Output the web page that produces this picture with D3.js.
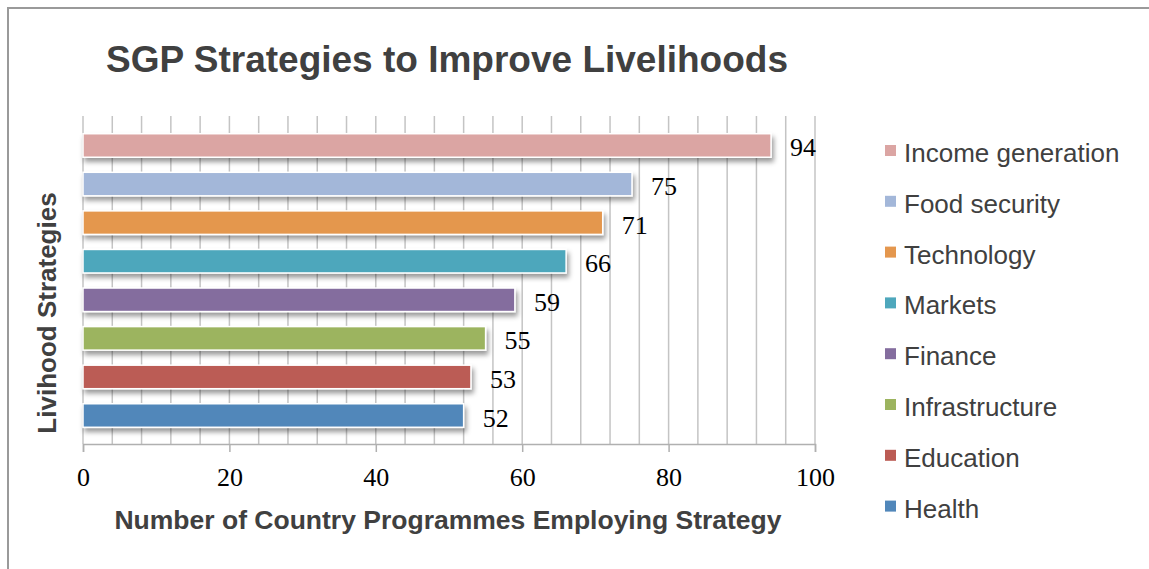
<!DOCTYPE html>
<html>
<head>
<meta charset="utf-8">
<script src="https://cdn.jsdelivr.net/npm/d3@7"></script>
<style>
  body { margin: 0; background: #fff; }
  svg { display: block; }
</style>
</head>
<body>
<svg id="chart" width="1149" height="569"></svg>
<script>
// chart data, top to bottom
var categories = ["Income generation", "Food security", "Technology", "Markets",
                  "Finance", "Infrastructure", "Education", "Health"];
var values = [94, 75, 71, 66, 59, 55, 53, 52];
var colors = ["#dba5a3", "#a3b7d9", "#e4974e", "#4ea7bc", "#846d9e", "#9cb45f", "#bb5b54", "#5187ba"];
var xTicks = [0, 20, 40, 60, 80, 100];

var svg = d3.select("#chart");

// frame (only top + left edges show in the picture)
svg.append("rect")
    .attr("x", 8).attr("y", 8)
    .attr("width", 1200).attr("height", 700)
    .attr("fill", "none")
    .attr("stroke", "#9a9a9a")
    .attr("stroke-width", 2);

// drop shadow for bars
var defs = svg.append("defs");
var f = defs.append("filter").attr("id", "shadow")
    .attr("x", "-5%").attr("y", "-30%").attr("width", "110%").attr("height", "180%");
f.append("feDropShadow")
    .attr("dx", 2).attr("dy", 4)
    .attr("stdDeviation", 2.5)
    .attr("flood-color", "#000")
    .attr("flood-opacity", 0.4);

var x = d3.scaleLinear().domain([0, 100]).range([83, 815]);
var y = d3.scaleBand().domain(categories)
    .range([126.2, 434.8])
    .paddingInner(0.39)
    .paddingOuter(0.195);

var plotTop = 116, plotBottom = 444;

// vertical gridlines every 4 units
svg.append("g").selectAll("line")
    .data(d3.range(0, 101, 4))
    .enter().append("line")
    .attr("x1", d => x(d)).attr("x2", d => x(d))
    .attr("y1", plotTop).attr("y2", plotBottom)
    .attr("stroke", "#c4c4c4")
    .attr("stroke-width", 1.5);

// bottom axis
var axis = svg.append("g").attr("transform", "translate(0," + plotBottom + ")")
    .call(d3.axisBottom(x).tickValues(xTicks).tickSize(8).tickPadding(16));
axis.select(".domain").attr("stroke", "#b0b0b0").attr("stroke-width", 1.5);
axis.selectAll(".tick line").attr("stroke", "#b0b0b0").attr("stroke-width", 1.5);
axis.selectAll(".tick text")
    .attr("font-family", "Liberation Serif, serif")
    .attr("font-size", 26)
    .attr("fill", "#000");

// bars
svg.append("g").selectAll("rect")
    .data(categories)
    .enter().append("rect")
    .attr("x", x(0))
    .attr("y", d => y(d))
    .attr("width", (d, i) => x(values[i]) - x(0))
    .attr("height", y.bandwidth())
    .attr("fill", (d, i) => colors[i])
    .attr("stroke", "#fff")
    .attr("stroke-width", 1.5)
    .attr("filter", "url(#shadow)");

// value labels
svg.append("g").selectAll("text")
    .data(categories)
    .enter().append("text")
    .attr("x", (d, i) => x(values[i]) + 19)
    .attr("y", d => y(d) + y.bandwidth() / 2 + 11)
    .attr("font-family", "Liberation Serif, serif")
    .attr("font-size", 26)
    .attr("fill", "#000")
    .text((d, i) => values[i]);

// title
svg.append("text")
    .attr("x", 447).attr("y", 72)
    .attr("text-anchor", "middle")
    .attr("font-family", "Liberation Sans, Arial, sans-serif")
    .attr("font-weight", "bold")
    .attr("font-size", 37)
    .attr("fill", "#404040")
    .text("SGP Strategies to Improve Livelihoods");

// axis titles
svg.append("text")
    .attr("x", 448).attr("y", 529)
    .attr("text-anchor", "middle")
    .attr("font-family", "Liberation Sans, Arial, sans-serif")
    .attr("font-weight", "bold")
    .attr("font-size", 26.5)
    .attr("fill", "#404040")
    .text("Number of Country Programmes Employing Strategy");

svg.append("text")
    .attr("transform", "translate(56,313) rotate(-90)")
    .attr("text-anchor", "middle")
    .attr("font-family", "Liberation Sans, Arial, sans-serif")
    .attr("font-weight", "bold")
    .attr("font-size", 26)
    .attr("fill", "#404040")
    .text("Livihood Strategies");

// legend
var legend = svg.append("g").selectAll("g")
    .data(categories)
    .enter().append("g")
    .attr("transform", (d, i) => "translate(885," + (150 + i * 50.8) + ")");
legend.append("rect")
    .attr("x", 0).attr("y", -5)
    .attr("width", 11).attr("height", 11)
    .attr("fill", (d, i) => colors[i]);
legend.append("text")
    .attr("x", 19).attr("y", 12)
    .attr("font-family", "Liberation Sans, Arial, sans-serif")
    .attr("font-size", 26)
    .attr("fill", "#404040")
    .text(d => d);
</script>
</body>
</html>
